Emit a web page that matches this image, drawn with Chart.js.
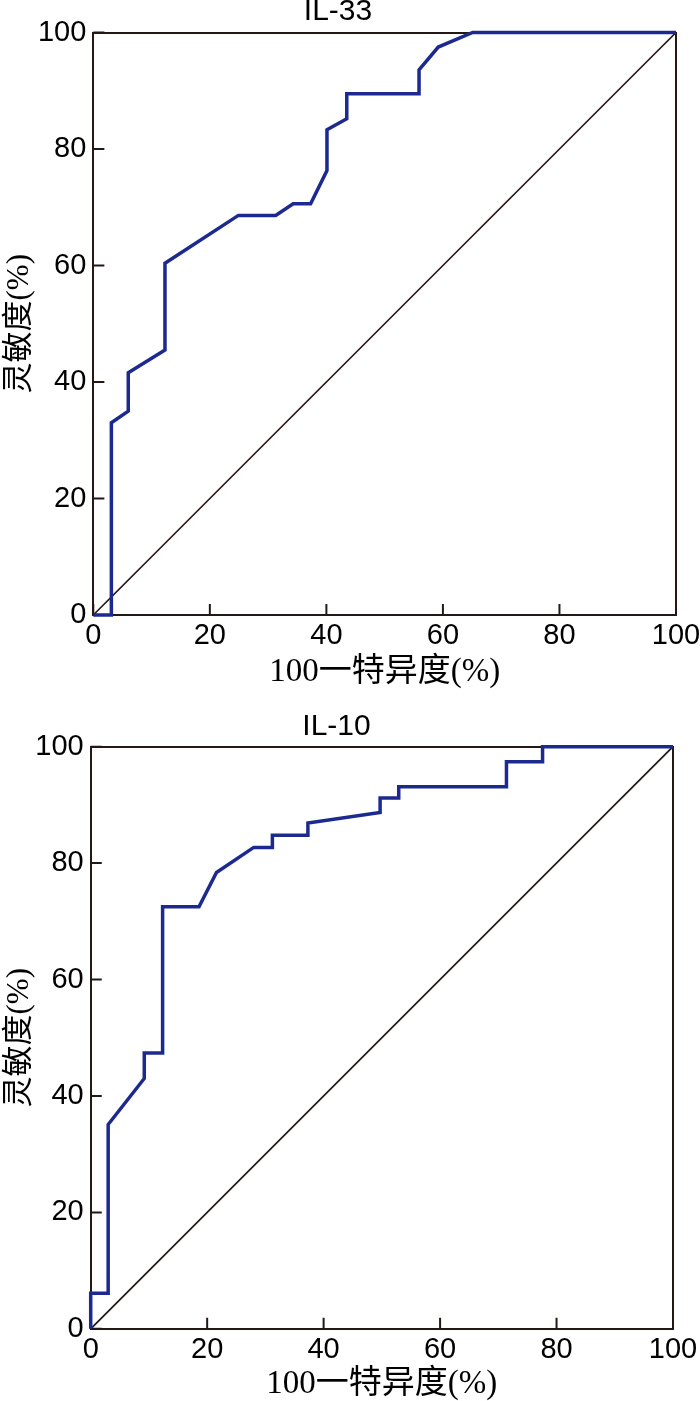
<!DOCTYPE html>
<html>
<head>
<meta charset="utf-8">
<script src="https://cdn.jsdelivr.net/npm/chart.js@4.4.1/dist/chart.umd.min.js"></script>
<style>
  body { margin: 0; background: #fff; }
  canvas { display: block; }
</style>
</head>
<body>
<canvas id="il33" width="700" height="700"></canvas>
<canvas id="il10" width="700" height="701"></canvas>
<script>
const tickValues = [0, 20, 40, 60, 80, 100];
const chanceLine = [0, 100];

// IL-33 ROC curve
const il33Fpr = [0, 3.1, 3.1, 6.0, 6.0, 12.3, 12.3, 24.9, 31.3, 34.3, 37.3, 40.1, 40.1, 43.5, 43.5, 55.9, 55.9, 59.2, 65.1, 100];
const il33Tpr = [0, 0, 33.0, 35.0, 41.6, 45.5, 60.4, 68.6, 68.6, 70.6, 70.6, 76.3, 83.3, 85.2, 89.5, 89.5, 93.6, 97.5, 100, 100];

// IL-10 ROC curve
const il10Fpr = [0, 0, 3.0, 3.0, 9.2, 9.2, 12.35, 12.35, 18.6, 21.6, 28.0, 31.2, 31.2, 37.3, 37.3, 49.7, 49.7, 52.9, 52.9, 71.4, 71.4, 77.6, 77.6, 100];
const il10Tpr = [0, 6.1, 6.1, 35.1, 43.0, 47.4, 47.4, 72.5, 72.5, 78.4, 82.7, 82.7, 84.8, 84.8, 86.9, 88.7, 91.2, 91.2, 93.1, 93.1, 97.4, 97.4, 100, 100];

const xTitle = '100一特异度(%)';
const yTitle = '灵敏度(%)';

const axisColor = '#231815';
const curveColor = '#1c2a90';
const tickLength = 1.9; // inward tick marks, in axis units (about 11 px)

Chart.defaults.font.family = '"Liberation Sans", Arial, sans-serif';
Chart.defaults.color = '#000';

const tickFont = { size: 29, lineHeight: 1.2 };
const cjkFont = { family: '"Liberation Serif", "Noto Sans CJK SC", serif', size: 33, lineHeight: 1 };

const noPadding = (scale) => {
  scale.paddingLeft = 0;
  scale.paddingRight = 0;
  scale.paddingTop = 0;
  scale.paddingBottom = 0;
};

const toPoints = (xs, ys) => xs.map((x, i) => ({ x, y: ys[i] }));

// short segments on the axes, broken apart by null points
const tickMarks = [
  ...tickValues.flatMap((v) => [{ x: v, y: 0 }, { x: v, y: tickLength }, { x: v, y: null }]),
  ...tickValues.flatMap((v) => [{ x: 0, y: v }, { x: tickLength, y: v }, { x: tickLength, y: null }]),
];

function makeChart(id, title, fpr, tpr, box) {
  return new Chart(document.getElementById(id), {
    type: 'line',
    data: {
      datasets: [
        {
          data: toPoints(fpr, tpr),
          borderColor: curveColor,
          borderWidth: 3.5,
          borderJoinStyle: 'miter',
          pointRadius: 0,
          tension: 0,
          clip: false,
        },
        {
          data: toPoints(chanceLine, chanceLine),
          borderColor: axisColor,
          borderWidth: 1.7,
          pointRadius: 0,
          tension: 0,
          clip: false,
        },
        {
          data: tickMarks,
          borderColor: axisColor,
          borderWidth: 2,
          borderCapStyle: 'butt',
          pointRadius: 0,
          tension: 0,
          spanGaps: false,
          clip: false,
        },
      ],
    },
    options: {
      responsive: false,
      animation: false,
      events: [],
      layout: { padding: { left: 0, right: box.right, top: 0, bottom: 0 } },
      plugins: {
        legend: { display: false },
        tooltip: { enabled: false },
        title: {
          display: true,
          text: title,
          color: '#000',
          font: { size: 30, weight: 'normal', lineHeight: 0.8 },
          padding: box.titlePad,
        },
      },
      scales: {
        x: {
          type: 'linear',
          position: 'bottom',
          min: 0,
          max: 100,
          afterBuildTicks: (scale) => { scale.ticks = tickValues.map((value) => ({ value })); },
          afterFit: (scale) => { scale.height = box.xHeight; noPadding(scale); },
          border: { display: true, color: axisColor, width: 2 },
          grid: { drawOnChartArea: false, drawTicks: false },
          ticks: { font: tickFont, color: '#000', padding: 4, maxRotation: 0 },
          title: { display: true, text: xTitle, color: '#000', font: cjkFont, padding: { top: 0, bottom: box.xTitlePad } },
        },
        y: {
          type: 'linear',
          position: 'left',
          min: 0,
          max: 100,
          afterBuildTicks: (scale) => { scale.ticks = tickValues.map((value) => ({ value })); },
          afterFit: (scale) => { scale.width = box.left; noPadding(scale); },
          border: { display: true, color: axisColor, width: 2 },
          grid: { drawOnChartArea: false, drawTicks: false },
          ticks: { font: tickFont, color: '#000', padding: 7 },
          title: { display: true, text: yTitle, color: '#000', font: { ...cjkFont, size: 31 }, padding: { top: 4, bottom: 0 } },
        },
        top: {
          type: 'linear',
          position: 'top',
          min: 0,
          max: 100,
          afterFit: (scale) => { scale.height = 0; noPadding(scale); },
          border: { display: true, color: axisColor, width: 2 },
          grid: { display: false },
          ticks: { display: false },
        },
        right: {
          type: 'linear',
          position: 'right',
          min: 0,
          max: 100,
          afterFit: (scale) => { scale.width = 0; noPadding(scale); },
          border: { display: true, color: axisColor, width: 2 },
          grid: { display: false },
          ticks: { display: false },
        },
      },
    },
  });
}

makeChart('il33', 'IL-33', il33Fpr, il33Tpr, {
  left: 93.3, right: 24, xHeight: 85, xTitlePad: 11.5,
  titlePad: { top: 0, bottom: 8.5 },
});

makeChart('il10', 'IL-10', il10Fpr, il10Tpr, {
  left: 90.7, right: 27, xHeight: 72.2, xTitlePad: 0.5,
  titlePad: { top: 14.5, bottom: 8.2 },
});
</script>
</body>
</html>
